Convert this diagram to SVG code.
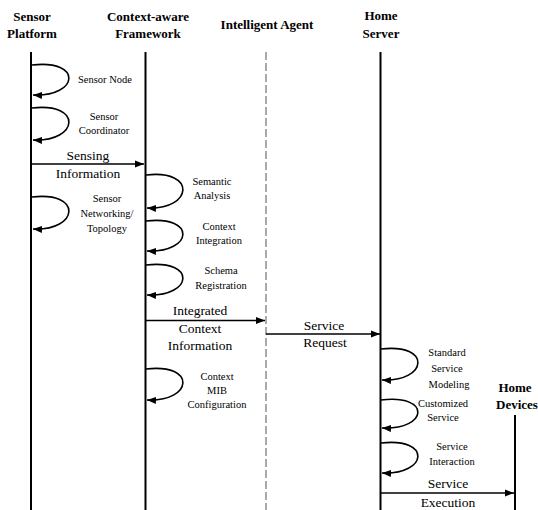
<svg xmlns="http://www.w3.org/2000/svg" width="538" height="510" viewBox="0 0 538 510">
<style>
text{font-family:'Liberation Serif','Times New Roman',Times,'DejaVu Serif',serif;fill:#000;text-anchor:middle}
.hd{font-weight:bold;font-size:13px}
.lb{font-size:10.5px}
.ml{font-size:13.5px}
.life{stroke:#000;stroke-width:2;fill:none}
.dash{stroke:#555;stroke-width:1;stroke-dasharray:8,3;fill:none}
.msg{stroke:#000;stroke-width:1.6;fill:none}
.loop{stroke:#000;stroke-width:1.6;fill:none}
</style>
<defs>
<marker id="ah" markerWidth="10" markerHeight="8" refX="9" refY="4" orient="auto" markerUnits="userSpaceOnUse">
<path d="M0,0.5 L9,4 L0,7.5 Z" fill="#000"/>
</marker>
</defs>
<g id="sensor-platform">
<text class="hd" x="32" y="21">Sensor</text>
<text class="hd" x="32" y="38">Platform</text>
<line class="life" x1="31" y1="52" x2="31" y2="510"/>
</g>
<g id="context-framework">
<text class="hd" x="148" y="21">Context-aware</text>
<text class="hd" x="148" y="38">Framework</text>
<line class="life" x1="145.5" y1="52" x2="145.5" y2="510"/>
</g>
<g id="intelligent-agent">
<text class="hd" x="267" y="29">Intelligent Agent</text>
<line class="dash" x1="266" y1="52" x2="266" y2="510"/>
</g>
<g id="home-server">
<text class="hd" x="381" y="20">Home</text>
<text class="hd" x="381" y="38">Server</text>
<line class="life" x1="380.5" y1="52" x2="380.5" y2="510"/>
</g>
<g id="home-devices">
<text class="hd" x="515" y="392">Home</text>
<text class="hd" x="517" y="409">Devices</text>
<line class="life" x1="515" y1="415" x2="515" y2="510"/>
</g>
<g id="connectors">
<path class="loop" marker-end="url(#ah)" d="M32,65 C83,59 79,97 33,95"/>
<path class="loop" marker-end="url(#ah)" d="M32,108 C83,102 79,142 33,140"/>
<line class="msg" marker-end="url(#ah)" x1="31" y1="164" x2="144" y2="164"/>
<path class="loop" marker-end="url(#ah)" d="M32,197 C83,191 79,231 33,229"/>
<path class="loop" marker-end="url(#ah)" d="M146,175 C197,169 193,210 147,208"/>
<path class="loop" marker-end="url(#ah)" d="M146,221 C197,215 193,253 147,251"/>
<path class="loop" marker-end="url(#ah)" d="M146,265 C197,259 193,297 147,295"/>
<line class="msg" marker-end="url(#ah)" x1="145" y1="320.5" x2="265" y2="320.5"/>
<line class="msg" marker-end="url(#ah)" x1="266" y1="334" x2="380" y2="334"/>
<path class="loop" marker-end="url(#ah)" d="M146,369 C197,363 193,402 147,400"/>
<path class="loop" marker-end="url(#ah)" d="M381,349 C432,343 428,382 382,380"/>
<path class="loop" marker-end="url(#ah)" d="M381,400 C432,394 428,430 382,428"/>
<path class="loop" marker-end="url(#ah)" d="M381,443 C432,437 428,475 382,473"/>
<line class="msg" marker-end="url(#ah)" x1="380" y1="493" x2="514" y2="493"/>
</g>
<g id="labels">
<text class="lb" x="105" y="83">Sensor Node</text>
<text class="lb" x="104" y="120">Sensor</text>
<text class="lb" x="104" y="134">Coordinator</text>
<text class="ml" x="88" y="160">Sensing</text>
<text class="ml" x="88" y="178">Information</text>
<text class="lb" x="107" y="202">Sensor</text>
<text class="lb" x="107" y="217">Networking/</text>
<text class="lb" x="107" y="232">Topology</text>
<text class="lb" x="212" y="185">Semantic</text>
<text class="lb" x="212" y="199">Analysis</text>
<text class="lb" x="219" y="230">Context</text>
<text class="lb" x="219" y="244">Integration</text>
<text class="lb" x="221" y="274">Schema</text>
<text class="lb" x="221" y="289">Registration</text>
<text class="ml" x="200" y="315">Integrated</text>
<text class="ml" x="200" y="333">Context</text>
<text class="ml" x="200" y="350">Information</text>
<text class="ml" x="324" y="330">Service</text>
<text class="ml" x="325" y="347">Request</text>
<text class="lb" x="217" y="380">Context</text>
<text class="lb" x="217" y="394">MIB</text>
<text class="lb" x="217" y="408">Configuration</text>
<text class="lb" x="447" y="356">Standard</text>
<text class="lb" x="447" y="372">Service</text>
<text class="lb" x="449" y="388">Modeling</text>
<text class="lb" x="443" y="407">Customized</text>
<text class="lb" x="443" y="421">Service</text>
<text class="lb" x="452" y="450">Service</text>
<text class="lb" x="452" y="465">Interaction</text>
<text class="ml" x="448" y="488">Service</text>
<text class="ml" x="448" y="507">Execution</text>
</g>
</svg>
